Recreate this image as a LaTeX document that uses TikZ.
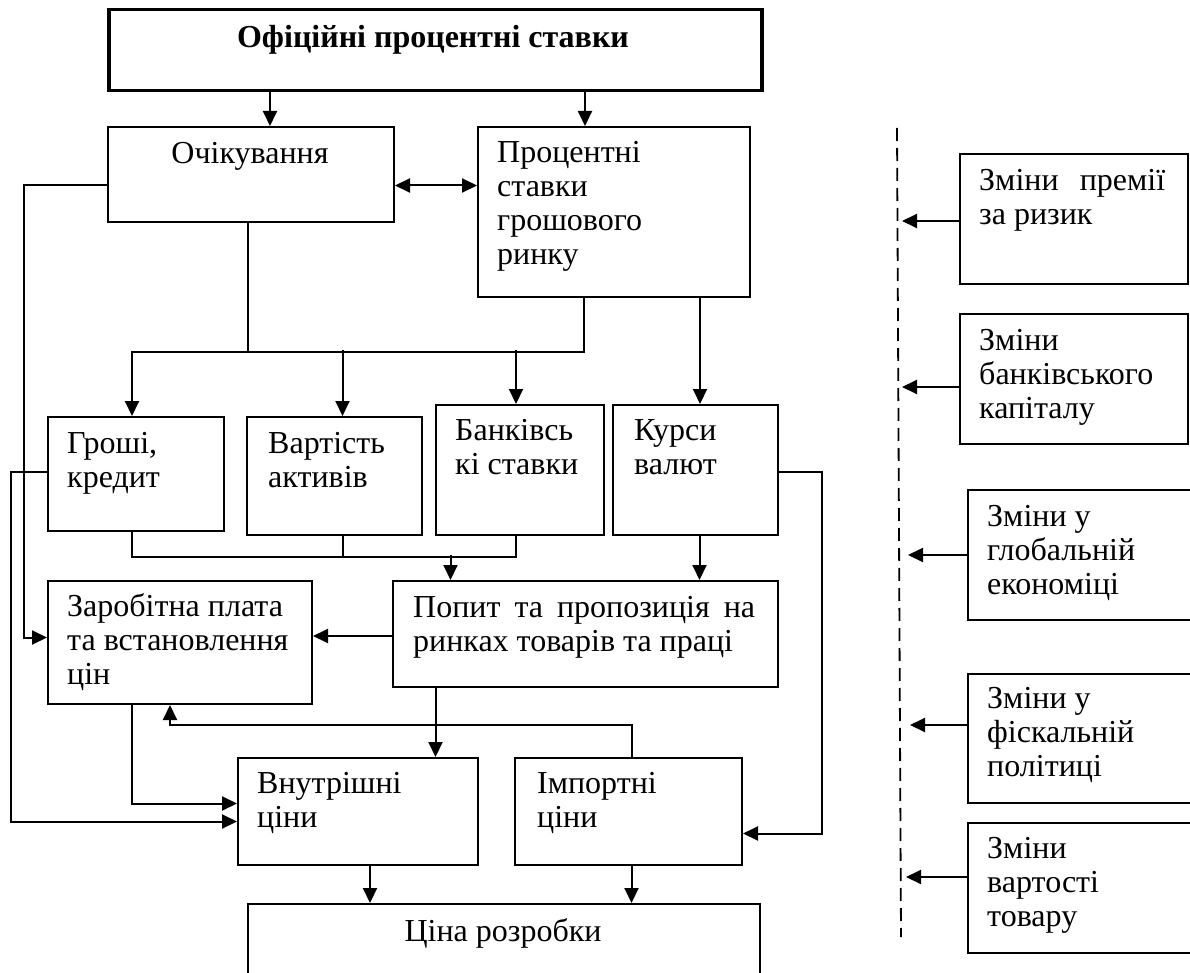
\documentclass[tikz,border=0pt]{standalone}
\usepackage{fontspec}
\setmainfont{Liberation Serif}
\usetikzlibrary{arrows.meta}
\newcommand{\boxfont}{\fontsize{32pt}{34pt}\selectfont}
\newcommand{\boxlines}[1]{\parbox[t]{12cm}{\raggedright #1}}

\begin{document}
\begin{tikzpicture}[x=1pt,y=-1pt,
  box/.style={draw, line width=2pt, inner sep=0pt, anchor=north west},
  txt/.style={inner sep=0pt, anchor=base west, font=\boxfont},
  ctxt/.style={inner sep=0pt, anchor=base, font=\boxfont},
  ln/.style={line width=2pt},
  arr/.style={ln, -{Triangle[length=15pt,width=14pt]}},
  darr/.style={ln, {Triangle[length=15pt,width=14pt]}-{Triangle[length=15pt,width=14pt]}}]
  \useasboundingbox (0,0) rectangle (1190,973);
  \clip (0,0) rectangle (1190,973);

  % boxes, left part
  \node[box, line width=3.5pt, minimum width=653pt, minimum height=81pt] (ofits) at (107,8) {};
  \node[box, minimum width=286pt, minimum height=95pt] (ochik) at (107,126) {};
  \node[box, minimum width=272pt, minimum height=170pt] (protsent) at (477,126) {};
  \node[box, minimum width=176pt, minimum height=114pt] (groshi) at (47,416) {};
  \node[box, minimum width=175pt, minimum height=118pt] (vartist) at (246,416) {};
  \node[box, minimum width=168pt, minimum height=130pt] (bank) at (435,404) {};
  \node[box, minimum width=165pt, minimum height=130pt] (kursy) at (612,404) {};
  \node[box, minimum width=264pt, minimum height=123pt] (zarob) at (47,580) {};
  \node[box, minimum width=385pt, minimum height=106pt] (popyt) at (392,580) {};
  \node[box, minimum width=240pt, minimum height=107pt] (vnutr) at (237,757) {};
  \node[box, minimum width=227pt, minimum height=107pt] (import) at (514,757) {};
  \node[box, minimum width=512pt, minimum height=100pt] (tsina) at (247,903) {};

  % boxes, right part
  \node[box, minimum width=228pt, minimum height=130pt] (premiya) at (959,153) {};
  \node[box, minimum width=228pt, minimum height=130pt] (bkap) at (959,313) {};
  \node[box, minimum width=240pt, minimum height=130pt] (global) at (967,489) {};
  \node[box, minimum width=240pt, minimum height=129pt] (fiskal) at (967,673) {};
  \node[box, minimum width=240pt, minimum height=130pt] (vartovar) at (967,822) {};

  % texts
  \node[ctxt, font=\boxfont\bfseries] (ofits-t) at (433,48) {Офіційні процентні ставки};
  \node[ctxt] (ochik-t) at (250,164) {Очікування};
  \node[txt] (protsent-t) at (497,163) {\boxlines{Процентні\\ставки\\грошового\\ринку}};
  \node[txt] (groshi-t) at (67,453) {\boxlines{Гроші,\\кредит}};
  \node[txt] (vartist-t) at (268,453) {\boxlines{Вартість\\активів}};
  \node[txt] (bank-t) at (455,440) {\boxlines{Банківсь\\кі ставки}};
  \node[txt] (kursy-t) at (634,440) {\boxlines{Курси\\валют}};
  \node[txt] (zarob-t) at (67,616) {\boxlines{Заробітна плата\\та встановлення\\цін}};
  \node[txt] (popyt-t) at (413,617) {\boxlines{\makebox[342pt][s]{Попит та пропозиція на}\\ринках товарів та праці}};
  \node[txt] (vnutr-t) at (257,793) {\boxlines{Внутрішні\\ціни}};
  \node[txt] (import-t) at (537,793) {\boxlines{Імпортні\\ціни}};
  \node[ctxt] (tsina-t) at (503,941) {Ціна розробки};
  \node[txt] (premiya-t) at (979,191) {\boxlines{\makebox[186pt][s]{Зміни премії}\\за ризик}};
  \node[txt] (bkap-t) at (979,350) {\boxlines{Зміни\\банківського\\капіталу}};
  \node[txt] (global-t) at (987,526) {\boxlines{Зміни у\\глобальній\\економіці}};
  \node[txt] (fiskal-t) at (987,708) {\boxlines{Зміни у\\фіскальній\\політиці}};
  \node[txt] (vartovar-t) at (987,858) {\boxlines{Зміни\\вартості\\товару}};

  % connectors, top
  \draw[arr] ([xshift=19pt]ochik.north |- ofits.south) -- ([xshift=19pt]ochik.north);
  \draw[arr] ([xshift=-29pt]protsent.north |- ofits.south) -- ([xshift=-29pt]protsent.north);
  \draw[darr] ([yshift=-11pt]ochik.east) -- ([yshift=-11pt]ochik.east -| protsent.west);
  \draw[ln] ([xshift=-3pt]ochik.south) -- ++(0,129);
  \draw[arr] ([xshift=-30pt]protsent.south) -- ++(0,54) -| ([xshift=-4pt]groshi.north);
  \draw[arr] ([xshift=8pt]vartist.north) ++(0,-66) -- ([xshift=8pt]vartist.north);
  \draw[arr] ([xshift=-4pt]bank.north) ++(0,-54) -- ([xshift=-4pt]bank.north);
  \draw[arr] ([xshift=86pt]protsent.south) -- ([xshift=86pt]protsent.south |- kursy.north);

  % connectors, middle
  \draw[ln] ([xshift=-4pt]groshi.south) -- ++(0,25) -| ([xshift=-4pt]bank.south);
  \draw[ln] ([xshift=8pt]vartist.south) -- ++(0,21);
  \draw[arr] ([xshift=-135pt]popyt.north) ++(0,-25) -- ([xshift=-135pt]popyt.north);
  \draw[arr] ([xshift=4pt]kursy.south) -- ([xshift=4pt]kursy.south |- popyt.north);
  \draw[arr] ([yshift=-11pt]ochik.west) -- ++(-83,0) |- ([yshift=5pt]zarob.west);
  \draw[arr] ([yshift=2pt]groshi.west) -- ++(-36,0) |- ([yshift=-10pt]vnutr.west);
  \draw[arr] ([yshift=-2pt]popyt.west) -- ([yshift=-2pt]popyt.west -| zarob.east);
  \draw[arr] ([yshift=-2pt]kursy.east) -- ++(43,0) |- ([yshift=-22pt]import.east);

  % connectors, bottom
  \draw[arr] ([xshift=-48pt]zarob.south) |- ([yshift=8pt]vnutr.west);
  \draw[arr] ([xshift=-150pt]popyt.south) -- ([xshift=-150pt]popyt.south |- vnutr.north);
  \draw[arr] ([xshift=3pt]import.north) -- ++(0,-32) -| ([xshift=-10pt]zarob.south);
  \draw[arr] ([xshift=12pt]vnutr.south) -- ([xshift=12pt]vnutr.south |- tsina.north);
  \draw[arr] ([xshift=3pt]import.south) -- ([xshift=3pt]import.south |- tsina.north);

  % dashed border and the arrows onto it
  \coordinate (dtop) at (897,128);
  \coordinate (dbot) at (901,937);
  \draw[line width=1.8pt, dash pattern=on 13pt off 7pt] (dtop) -- (dbot);
  \coordinate (p1) at (902,221);
  \coordinate (p2) at (902,387);
  \coordinate (p3) at (908,555);
  \coordinate (p4) at (910,725);
  \coordinate (p5) at (906,877);
  \draw[arr] (premiya.west |- p1) -- (p1);
  \draw[arr] (bkap.west |- p2) -- (p2);
  \draw[arr] (global.west |- p3) -- (p3);
  \draw[arr] (fiskal.west |- p4) -- (p4);
  \draw[arr] (vartovar.west |- p5) -- (p5);
\end{tikzpicture}
\end{document}
